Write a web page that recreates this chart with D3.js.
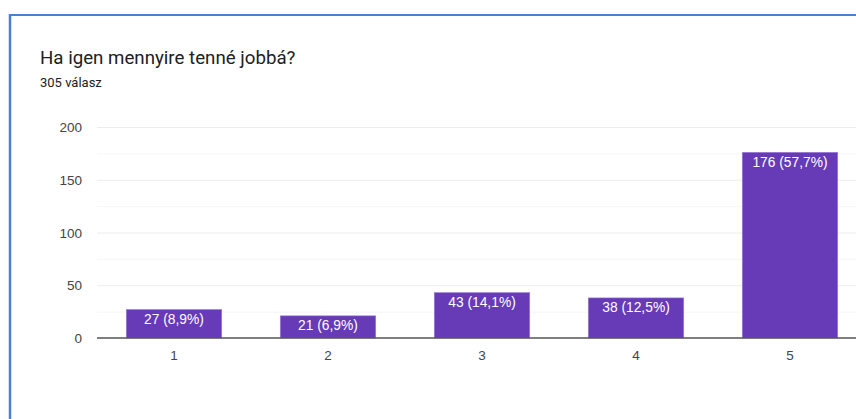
<!DOCTYPE html>
<html>
<head>
<meta charset="utf-8">
<script src="https://cdn.jsdelivr.net/npm/d3@7"></script>
<style>
    html, body { margin: 0; padding: 0; background: #fff; overflow: hidden; }
    svg { display: block; font-family: Roboto, Arial, sans-serif; }
    .chartText { font-family: Arial, "Liberation Sans", sans-serif; }
</style>
</head>
<body>
<div id="chart"></div>
<script>
/* chart data */
var categories = ["1", "2", "3", "4", "5"];
var counts = [27, 21, 43, 38, 176];
var percents = ["8,9%", "6,9%", "14,1%", "12,5%", "57,7%"];
var yTicks = [0, 50, 100, 150, 200];
var minorTicks = [25, 75, 125, 175];
var title = "Ha igen mennyire tenné jobbá?";
var subtitle = "305 válasz";

var WIDTH = 856, HEIGHT = 419;
var plot = {left: 97, right: 867, top: 127, bottom: 338};

var svg = d3.select("#chart").append("svg")
    .attr("width", WIDTH)
    .attr("height", HEIGHT);

// card border (only top and left visible in the crop)
svg.append("line").attr("x1", 10).attr("x2", WIDTH).attr("y1", 15).attr("y2", 15)
    .attr("stroke", "#4a7fd3").attr("stroke-width", 2);
svg.append("line").attr("x1", 10).attr("x2", 10).attr("y1", 14).attr("y2", HEIGHT)
    .attr("stroke", "#4a7fd3").attr("stroke-width", 2.5);

svg.append("text").attr("x", 40).attr("y", 64)
    .attr("font-size", 18.7).attr("fill", "#202124").text(title);
svg.append("text").attr("x", 40).attr("y", 87)
    .attr("font-size", 13).attr("fill", "#202124").text(subtitle);

var x = d3.scaleBand().domain(categories)
    .range([plot.left, plot.right]).paddingInner(0.38).paddingOuter(0.19);
var y = d3.scaleLinear().domain([0, 200]).range([plot.bottom, plot.top]);

// grid
svg.append("g").selectAll("line").data(minorTicks).join("line")
    .attr("x1", plot.left).attr("x2", WIDTH)
    .attr("y1", d => y(d) + 0.5).attr("y2", d => y(d) + 0.5)
    .attr("stroke", "#f6f6f6");
svg.append("g").selectAll("line").data(yTicks.slice(1)).join("line")
    .attr("x1", plot.left).attr("x2", WIDTH)
    .attr("y1", d => y(d) + 0.5).attr("y2", d => y(d) + 0.5)
    .attr("stroke", "#ececec");

// y labels
svg.append("g").attr("class", "chartText").selectAll("text").data(yTicks).join("text")
    .attr("x", 82).attr("y", d => y(d) + 5)
    .attr("text-anchor", "end").attr("font-size", 13.5).attr("fill", "#444")
    .text(d => d);

// bars
var bars = svg.append("g").attr("class", "chartText").selectAll("g").data(counts).join("g");
bars.append("rect")
    .attr("x", (d, i) => x(categories[i]))
    .attr("y", d => y(d))
    .attr("width", x.bandwidth())
    .attr("height", d => y(0) - y(d))
    .attr("fill", "#673ab7")
    .attr("stroke", "#9c7fd4").attr("stroke-width", 0.6);
bars.append("text")
    .attr("x", (d, i) => x(categories[i]) + x.bandwidth() / 2)
    .attr("y", d => y(d) + 14.5)
    .attr("text-anchor", "middle").attr("font-size", 13.8).attr("fill", "#fff")
    .text((d, i) => d + " (" + percents[i] + ")");

// x axis
svg.append("line").attr("x1", plot.left).attr("x2", WIDTH)
    .attr("y1", y(0)).attr("y2", y(0))
    .attr("stroke", "#555").attr("stroke-width", 1.5);
svg.append("g").attr("class", "chartText").selectAll("text").data(categories).join("text")
    .attr("x", d => x(d) + x.bandwidth() / 2)
    .attr("y", 359.5)
    .attr("text-anchor", "middle").attr("font-size", 13.5).attr("fill", "#444")
    .text(d => d);
</script>
</body>
</html>
